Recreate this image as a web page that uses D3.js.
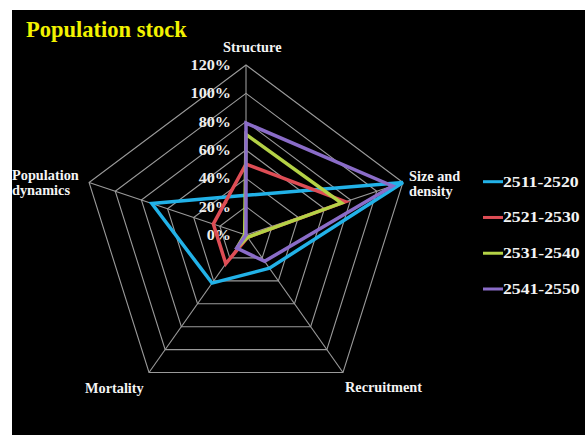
<!DOCTYPE html>
<html>
<head>
<meta charset="utf-8">
<script src="https://cdn.jsdelivr.net/npm/d3@7"></script>
<style>
  html, body { margin: 0; padding: 0; background: #ffffff; }
  svg { display: block; }
  text { font-family: "Liberation Serif", "Times New Roman", serif; font-weight: bold; }
</style>
</head>
<body>
<svg id="chart" width="585" height="435"></svg>
<script>
// Radar axes, clockwise from the top
const categories = ["Structure", "Size and density", "Recruitment", "Mortality", "Population dynamics"];

// Series (decade ranges) and their share on each axis
const seriesNames = ["2511-2520", "2521-2530", "2531-2540", "2541-2550"];
const values2511 = [0.28, 1.20, 0.29, 0.42, 0.72];
const values2521 = [0.50, 0.76, 0.02, 0.25, 0.25];
const values2531 = [0.71, 0.73, 0.02, 0.11, 0.01];
const values2541 = [0.79, 1.12, 0.23, 0.115, 0.00];
const seriesColors = ["#22b2e8", "#de4d55", "#b4d246", "#8a6cc8"];

// Ring values and their labels
const tickValues = [0, 0.2, 0.4, 0.6, 0.8, 1.0, 1.2];
const tickLabels = ["0%", "20%", "40%", "60%", "80%", "100%", "120%"];

const chartTitle = "Population stock";

const svg = d3.select("#chart");

// Black panel
svg.append("rect")
  .attr("x", 12).attr("y", 10)
  .attr("width", 573).attr("height", 425)
  .attr("fill", "#000000");

// Title
svg.append("text")
  .attr("x", 26).attr("y", 37)
  .attr("font-size", 22.5)
  .attr("fill", "#f2f200")
  .text(chartTitle);

// Geometry of the radar
const cx = 246, cy = 235;
const rx = 165, ry = 170;
const r = d3.scaleLinear().domain([0, 1.2]).range([0, 1]);
const angle = d3.scalePoint().domain(categories).range([0, 2 * Math.PI * (categories.length - 1) / categories.length]);

const px = (cat, v) => cx + r(v) * rx * Math.sin(angle(cat));
const py = (cat, v) => cy - r(v) * ry * Math.cos(angle(cat));

const line = d3.line().x(d => d[0]).y(d => d[1]).curve(d3.curveLinearClosed);

// Grid rings
const grid = svg.append("g").attr("class", "grid");
tickValues.filter(v => v > 0).forEach(v => {
  grid.append("path")
    .attr("d", line(categories.map(c => [px(c, v), py(c, v)])))
    .attr("fill", "none")
    .attr("stroke", "#9a9a9a")
    .attr("stroke-width", 1.1);
});

// Spokes
categories.forEach(c => {
  grid.append("line")
    .attr("x1", cx).attr("y1", cy)
    .attr("x2", px(c, 1.2)).attr("y2", py(c, 1.2))
    .attr("stroke", "#9a9a9a")
    .attr("stroke-width", 1.1);
});

// Ring labels
svg.append("g").selectAll("text")
  .data(tickValues)
  .join("text")
  .attr("transform", (v) => `translate(231,${cy - r(v) * ry}) scale(1.14,1)`)
  .attr("text-anchor", "end")
  .attr("dominant-baseline", "central")
  .attr("font-size", 14.2)
  .attr("fill", "#eeeeee")
  .text((v, i) => tickLabels[i]);

// Axis labels
const axisLabels = [
  { lines: ["Structure"], x: 223, y: 52, anchor: "start" },
  { lines: ["Size and", "density"], x: 409, y: 180.5, anchor: "start" },
  { lines: ["Recruitment"], x: 345, y: 392, anchor: "start" },
  { lines: ["Mortality"], x: 85, y: 393, anchor: "start" },
  { lines: ["Population", "dynamics"], x: 12, y: 179.5, anchor: "start" }
];
axisLabels.forEach(l => {
  const t = svg.append("text")
    .attr("x", l.x).attr("y", l.y)
    .attr("text-anchor", l.anchor)
    .attr("font-size", 14.3)
    .attr("fill", "#f4f4f4");
  l.lines.forEach((s, i) => {
    t.append("tspan").attr("x", l.x).attr("dy", i === 0 ? 0 : 15.5).text(s);
  });
});

// Series polygons
const allValues = [values2511, values2521, values2531, values2541];
const series = svg.append("g").attr("class", "series");
allValues.forEach((vals, i) => {
  series.append("path")
    .attr("d", line(categories.map((c, j) => [px(c, vals[j]), py(c, vals[j])])))
    .attr("fill", "none")
    .attr("stroke", seriesColors[i])
    .attr("stroke-width", 3.5)
    .attr("stroke-linejoin", "miter");
});

// Legend
const legendY = d3.scalePoint().domain(seriesNames).range([181.7, 289]);
const legend = svg.append("g").attr("class", "legend");
seriesNames.forEach((name, i) => {
  legend.append("line")
    .attr("x1", 483).attr("x2", 503)
    .attr("y1", legendY(name)).attr("y2", legendY(name))
    .attr("stroke", seriesColors[i])
    .attr("stroke-width", 3);
  legend.append("text")
    .attr("transform", `translate(503,${legendY(name)}) scale(1.18,1)`)
    .attr("dominant-baseline", "central")
    .attr("font-size", 15)
    .attr("fill", "#f4f4f4")
    .text(name);
});
</script>
</body>
</html>
